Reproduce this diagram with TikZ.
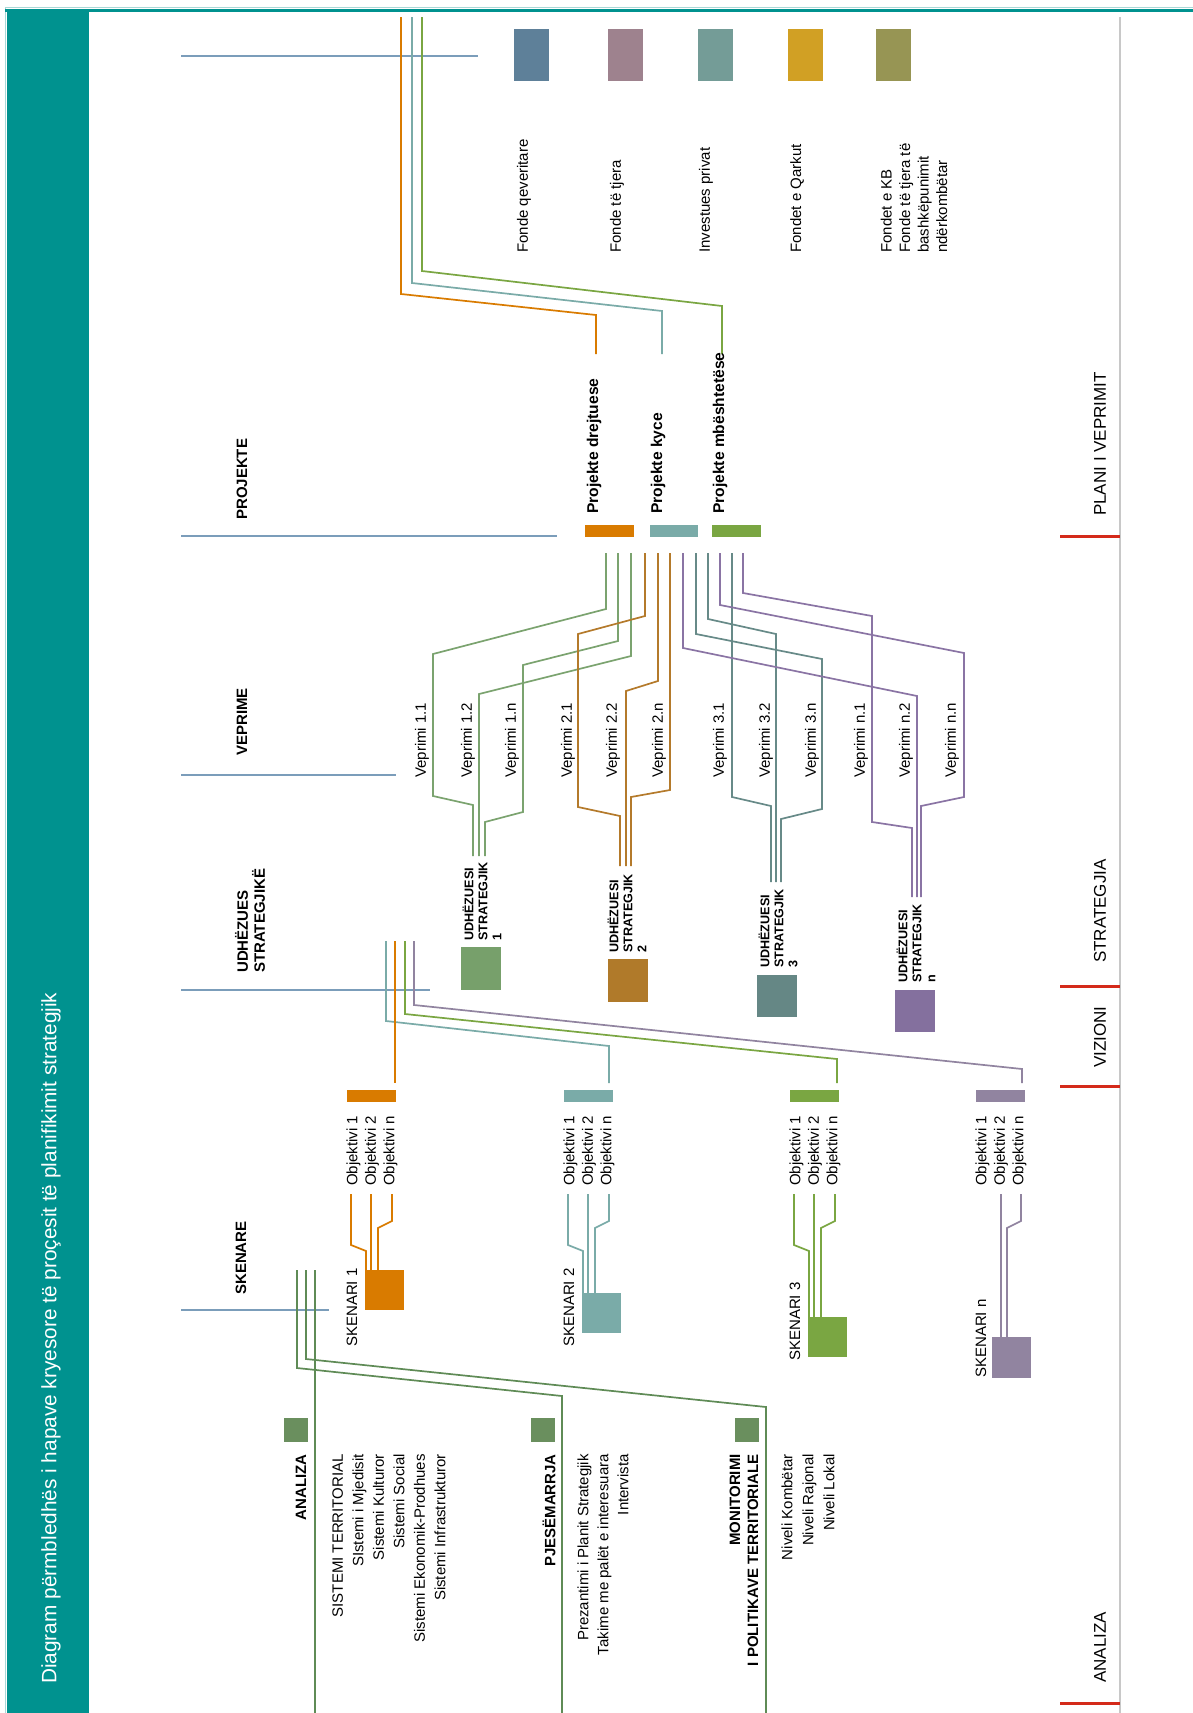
\documentclass[tikz,border=0pt]{standalone}
\usepackage{fontspec}
\setmainfont{Liberation Sans}
\definecolor{titleteal}{HTML}{00928F}
\definecolor{lightteal}{HTML}{A8D8D6}
\definecolor{rowblue}{HTML}{7B9DBA}
\definecolor{redmark}{HTML}{D42A1A}
\definecolor{framegray}{HTML}{C8C8C8}
\definecolor{fondA}{HTML}{5E8099}
\definecolor{fondB}{HTML}{9E828E}
\definecolor{fondC}{HTML}{749C97}
\definecolor{fondD}{HTML}{D1A024}
\definecolor{fondE}{HTML}{979554}
\definecolor{orng}{HTML}{D97B00}
\definecolor{tealc}{HTML}{7AABA8}
\definecolor{grnc}{HTML}{7AA642}
\definecolor{purc}{HTML}{9184A0}
\definecolor{usA}{HTML}{77A06B}
\definecolor{usB}{HTML}{B07A2A}
\definecolor{usC}{HTML}{658785}
\definecolor{usD}{HTML}{84709E}
\definecolor{lnA}{HTML}{7BA36F}
\definecolor{lnB}{HTML}{B47A2B}
\definecolor{lnC}{HTML}{678A88}
\definecolor{lnD}{HTML}{8A74A4}
\definecolor{bgrn}{HTML}{5F8B56}
\definecolor{bsq}{HTML}{6A8F5E}
\begin{document}
\begin{tikzpicture}[x=1pt,y=-1pt,
  txt/.style={rotate=90,inner sep=0pt,font=\fontsize{15}{18.5}\selectfont},
  hd/.style={rotate=90,inner sep=0pt,font=\fontsize{15}{17}\selectfont\bfseries},
  usl/.style={rotate=90,inner sep=0pt,anchor=west,align=left,font=\fontsize{12.6}{14}\selectfont\bfseries},
  ph/.style={rotate=90,inner sep=0pt,anchor=west,font=\fontsize{17}{20}\selectfont},
  row/.style={rowblue,line width=2.2pt},
  lnk/.style={line width=1.7pt},
  bar/.style 2 args={anchor=north west,inner sep=0pt,outer sep=0pt,minimum width=#1,minimum height=#2}]
\useasboundingbox (0,0) rectangle (1193,1713);
% frame
\fill[titleteal] (7,12) rectangle (89,1713);
\draw[lightteal,line width=1pt] (5,1713) -- (5,7.5) -- (1193,7.5);
\draw[titleteal,line width=3pt] (5,10) -- (1193,10);
\draw[framegray,line width=1.5pt] (1120,17) -- (1120,1713);
\node[rotate=90,anchor=west,inner sep=0pt,text=white,font=\fontsize{20.8}{24}\selectfont] (title) at (51,1684) {Diagram përmbledhës i hapave kryesore të proçesit të planifikimit strategjik};
% phases
\foreach \y in {536,986,1086,1703} \draw[redmark,line width=3pt] (1060,\y) -- (1120,\y);
\node[ph] (plan) at (1100,516) {PLANI I VEPRIMIT};
\node[ph] (strat) at (1100,963) {STRATEGJIA};
\node[ph] (viz) at (1100,1068) {VIZIONI};
\node[ph] (anl) at (1100,1683) {ANALIZA};
% rows
\draw[row] (181,56) -- (478,56);
\draw[row] (181,536) -- (557,536);
\draw[row] (181,775) -- (396,775);
\draw[row] (181,990) -- (430,990);
\draw[row] (181,1310) -- (329,1310);
\node[hd,anchor=west] (projekte) at (242,520) {PROJEKTE};
\node[hd,anchor=west] (veprime) at (242,756) {VEPRIME};
\node[hd,anchor=west,align=left] (udhezues) at (250,973) {UDHËZUES\\STRATEGJIKË};
\node[hd,anchor=west] (skenare) at (241,1295) {SKENARE};
% funding
\foreach \x/\c/\n in {514/fondA/fA,608/fondB/fB,698/fondC/fC,788/fondD/fD,876/fondE/fE}
  \node[bar={35}{52},fill=\c] (\n) at (\x,29) {};
\node[txt,anchor=west] (fqev) at (524,253) {Fonde qeveritare};
\node[txt,anchor=west] (ftje) at (617,253) {Fonde të tjera};
\node[txt,anchor=west] (finv) at (706,253) {Investues privat};
\node[txt,anchor=west] (fqar) at (797,253) {Fondet e Qarkut};
\node[txt,anchor=west,align=left] (fkb) at (914,253) {Fondet e KB\\Fonde të tjera të\\bashkëpunimit\\ndërkombëtar};
\draw[lnk,orng] (401,17) -- (401,294) -- (596,315) -- (596,354);
\draw[lnk,tealc] (412,17) -- (412,283) -- (662,311) -- (662,354);
\draw[lnk,grnc] (422,17) -- (422,271) -- (722,306) -- (722,354);
% projects
\node[bar={49}{12},fill=orng] (pA) at (585,525) {};
\node[bar={48}{12},fill=tealc] (pB) at (650,525) {};
\node[bar={49}{12},fill=grnc] (pC) at (712,525) {};
\node[hd,anchor=west,font=\fontsize{15.6}{17}\selectfont\bfseries] (pdr) at (594,514) {Projekte drejtuese};
\node[hd,anchor=west,font=\fontsize{15.6}{17}\selectfont\bfseries] (pky) at (658,514) {Projekte kyce};
\node[hd,anchor=west,font=\fontsize{15.6}{17}\selectfont\bfseries] (pmb) at (720,514) {Projekte mbështetëse};
% veprime
\foreach \x/\t/\n in {422/1.1/v11,468/1.2/v12,512/1.n/v1n,568/2.1/v21,613/2.2/v22,659/2.n/v2n,720/3.1/v31,766/3.2/v32,812/3.n/v3n,861/n.1/vn1,906/n.2/vn2,952/n.n/vnn}
  \node[txt,anchor=west] (\n) at (\x,778) {Veprimi \t};
\draw[lnk,lnA] (606,553) -- (606,609) -- (433,654) -- (433,796) -- (473,805) -- (473,856);
\draw[lnk,lnA] (618,553) -- (618,641) -- (523,665) -- (523,812) -- (485,822) -- (485,856);
\draw[lnk,lnA] (631,553) -- (631,656) -- (479,694) -- (479,856);
\draw[lnk,lnB] (645,553) -- (645,616) -- (578,634) -- (578,807) -- (620,816) -- (620,866);
\draw[lnk,lnB] (658,553) -- (658,681) -- (626,691) -- (626,866);
\draw[lnk,lnB] (670,553) -- (670,790) -- (631,797) -- (631,866);
\draw[lnk,lnC] (732,553) -- (732,797) -- (771,806) -- (771,882);
\draw[lnk,lnC] (708,553) -- (708,619) -- (776,634) -- (776,882);
\draw[lnk,lnC] (696,553) -- (696,634) -- (822,659) -- (822,809) -- (781,819) -- (781,882);
\draw[lnk,lnD] (683,553) -- (683,648) -- (917,696) -- (917,897);
\draw[lnk,lnD] (720,553) -- (720,605) -- (964,653) -- (964,797) -- (921,806) -- (921,897);
\draw[lnk,lnD] (743,553) -- (743,593) -- (872,616) -- (872,822) -- (912,828) -- (912,897);
% udhezuesit strategjik
\node[usl] (ul1) at (482,941) {UDHËZUESI\\STRATEGJIK\\1};
\node[usl] (ul2) at (627,953) {UDHËZUESI\\STRATEGJIK\\2};
\node[usl] (ul3) at (778,968) {UDHËZUESI\\STRATEGJIK\\3};
\node[usl] (uln) at (916,983) {UDHËZUESI\\STRATEGJIK\\n};
\node[bar={40}{43},fill=usA] (us1) at (461,947) {};
\node[bar={40}{43},fill=usB] (us2) at (608,959) {};
\node[bar={40}{42},fill=usC] (us3) at (757,975) {};
\node[bar={40}{42},fill=usD] (usn) at (895,990) {};
% vizioni -> skenaret
\draw[lnk,tealc] (386,941) -- (386,1021) -- (609,1046) -- (609,1083);
\draw[lnk,orng] (395,941) -- (395,1083);
\draw[lnk,grnc] (405,941) -- (405,1014) -- (837,1059) -- (837,1083);
\draw[lnk,purc] (414,941) -- (414,1005) -- (1022,1069) -- (1022,1083);
\foreach \L/\c/\n in {347/orng/o1,564/tealc/o2,790/grnc/o3,976/purc/on}{
  \node[bar={49}{12},fill=\c] (\n) at (\L,1090) {};
  \node[txt,anchor=west,align=left] (\n t) at (\L+25,1186) {Objektivi 1\\Objektivi 2\\Objektivi n};
}
\foreach \L/\b/\c/\n/\t/\s in {347/1270/orng/sk1/1/1347,564/1293/tealc/sk2/2/1347,790/1317/grnc/sk3/3/1361}{
  \draw[lnk,\c] (\L+4,1194) -- (\L+4,1245) -- (\L+19,1251) -- (\L+19,\b);
  \draw[lnk,\c] (\L+24,1194) -- (\L+24,\b);
  \draw[lnk,\c] (\L+45,1194) -- (\L+45,1221) -- (\L+31,1228) -- (\L+31,\b);
  \node[bar={39}{40},fill=\c] (\n) at (\L+18,\b) {};
  \node[txt,anchor=west] (\n t) at (\L+5,\s) {SKENARI \t};
}
\draw[lnk,purc] (1001,1194) -- (1001,1337);
\draw[lnk,purc] (1021,1194) -- (1021,1221) -- (1007,1228) -- (1007,1337);
\node[bar={39}{41},fill=purc] (skn) at (992,1337) {};
\node[txt,anchor=west] (sknt) at (981,1378) {SKENARI n};
% analiza
\draw[lnk,bgrn] (315,1270) -- (315,1713);
\draw[lnk,bgrn] (297,1270) -- (297,1368) -- (562,1396) -- (562,1713);
\draw[lnk,bgrn] (306,1270) -- (306,1359) -- (766,1407) -- (766,1713);
\node[bar={24}{24},fill=bsq] (qa) at (284,1418) {};
\node[bar={24}{24},fill=bsq] (qp) at (531,1418) {};
\node[bar={24}{24},fill=bsq] (qm) at (735,1418) {};
\node[hd,anchor=east] (analiza) at (301,1454) {ANALIZA};
\node[hd,anchor=east] (pjes) at (549,1454) {PJESËMARRJA};
\node[hd,anchor=east,align=right,font=\fontsize{15}{18}\selectfont\bfseries] (mon) at (744,1454) {MONITORIMI\\I POLITIKAVE TERRITORIALE};
\node[txt,anchor=east,align=right,font=\fontsize{15}{20.5}\selectfont] (lsa) at (389,1454) {SISTEMI TERRITORIAL\\SIstemi i Mjedisit\\Sistemi Kulturor\\Sistemi Social\\Sistemi Ekonomik-Prodhues\\Sistemi Infrastrukturor};
\node[txt,anchor=east,align=right,font=\fontsize{15}{20}\selectfont] (lsp) at (603,1454) {Prezantimi i Planit Strategjik\\Takime me palët e interesuara\\Intervista};
\node[txt,anchor=east,align=right,font=\fontsize{15}{21}\selectfont] (lsm) at (808,1454) {Niveli Kombëtar\\Niveli Rajonal\\Niveli Lokal};
\end{tikzpicture}
\end{document}
